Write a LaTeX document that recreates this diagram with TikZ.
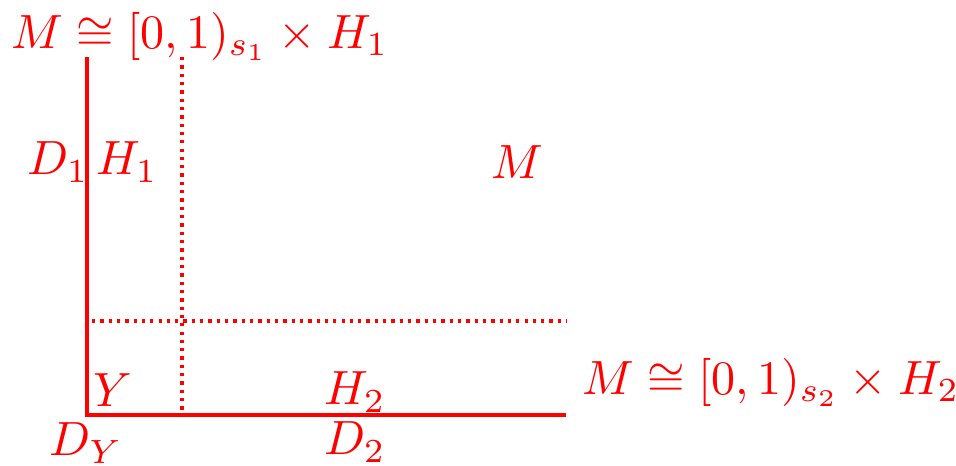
\documentclass[tikz,border=0pt]{standalone}
\begin{document}
\begin{tikzpicture}[x=0.208pt,y=-0.208pt,red,every node/.style={text=red},
  bdry/.style={line width=0.75pt},
  cut/.style={line width=0.68pt,dash pattern=on 0.68pt off 1.05pt}]
\useasboundingbox (0,0) rectangle (956,465);
\coordinate (top) at (87,57);
\coordinate (corner) at (87,415);
\coordinate (end) at (566,415);
\coordinate (vtop) at (182,57);
\coordinate (vbot) at (182,412);
\coordinate (hleft) at (92,321);
\coordinate (hright) at (567,321);
\draw[bdry] (top)--(corner)--(end);
\draw[cut] (vtop)--(vbot);
\draw[cut] (hleft)--(hright);
% labels
\node (prod1) at (200,36) {$M\cong[0,1)_{s_1}\times H_1$};
\node (prod2) at (771,382) {$M\cong[0,1)_{s_2}\times H_2$};
\node (d1) at (58,162) {$D_1$};
\node (h1) at (127,162) {$H_1$};
\node (m) at (517,162) {$M$};
\node (y) at (113,390) {$Y$};
\node (h2) at (355,392) {$H_2$};
\node (dy) at (86,443) {$D_Y$};
\node (d2) at (355,442) {$D_2$};
\end{tikzpicture}
\end{document}
